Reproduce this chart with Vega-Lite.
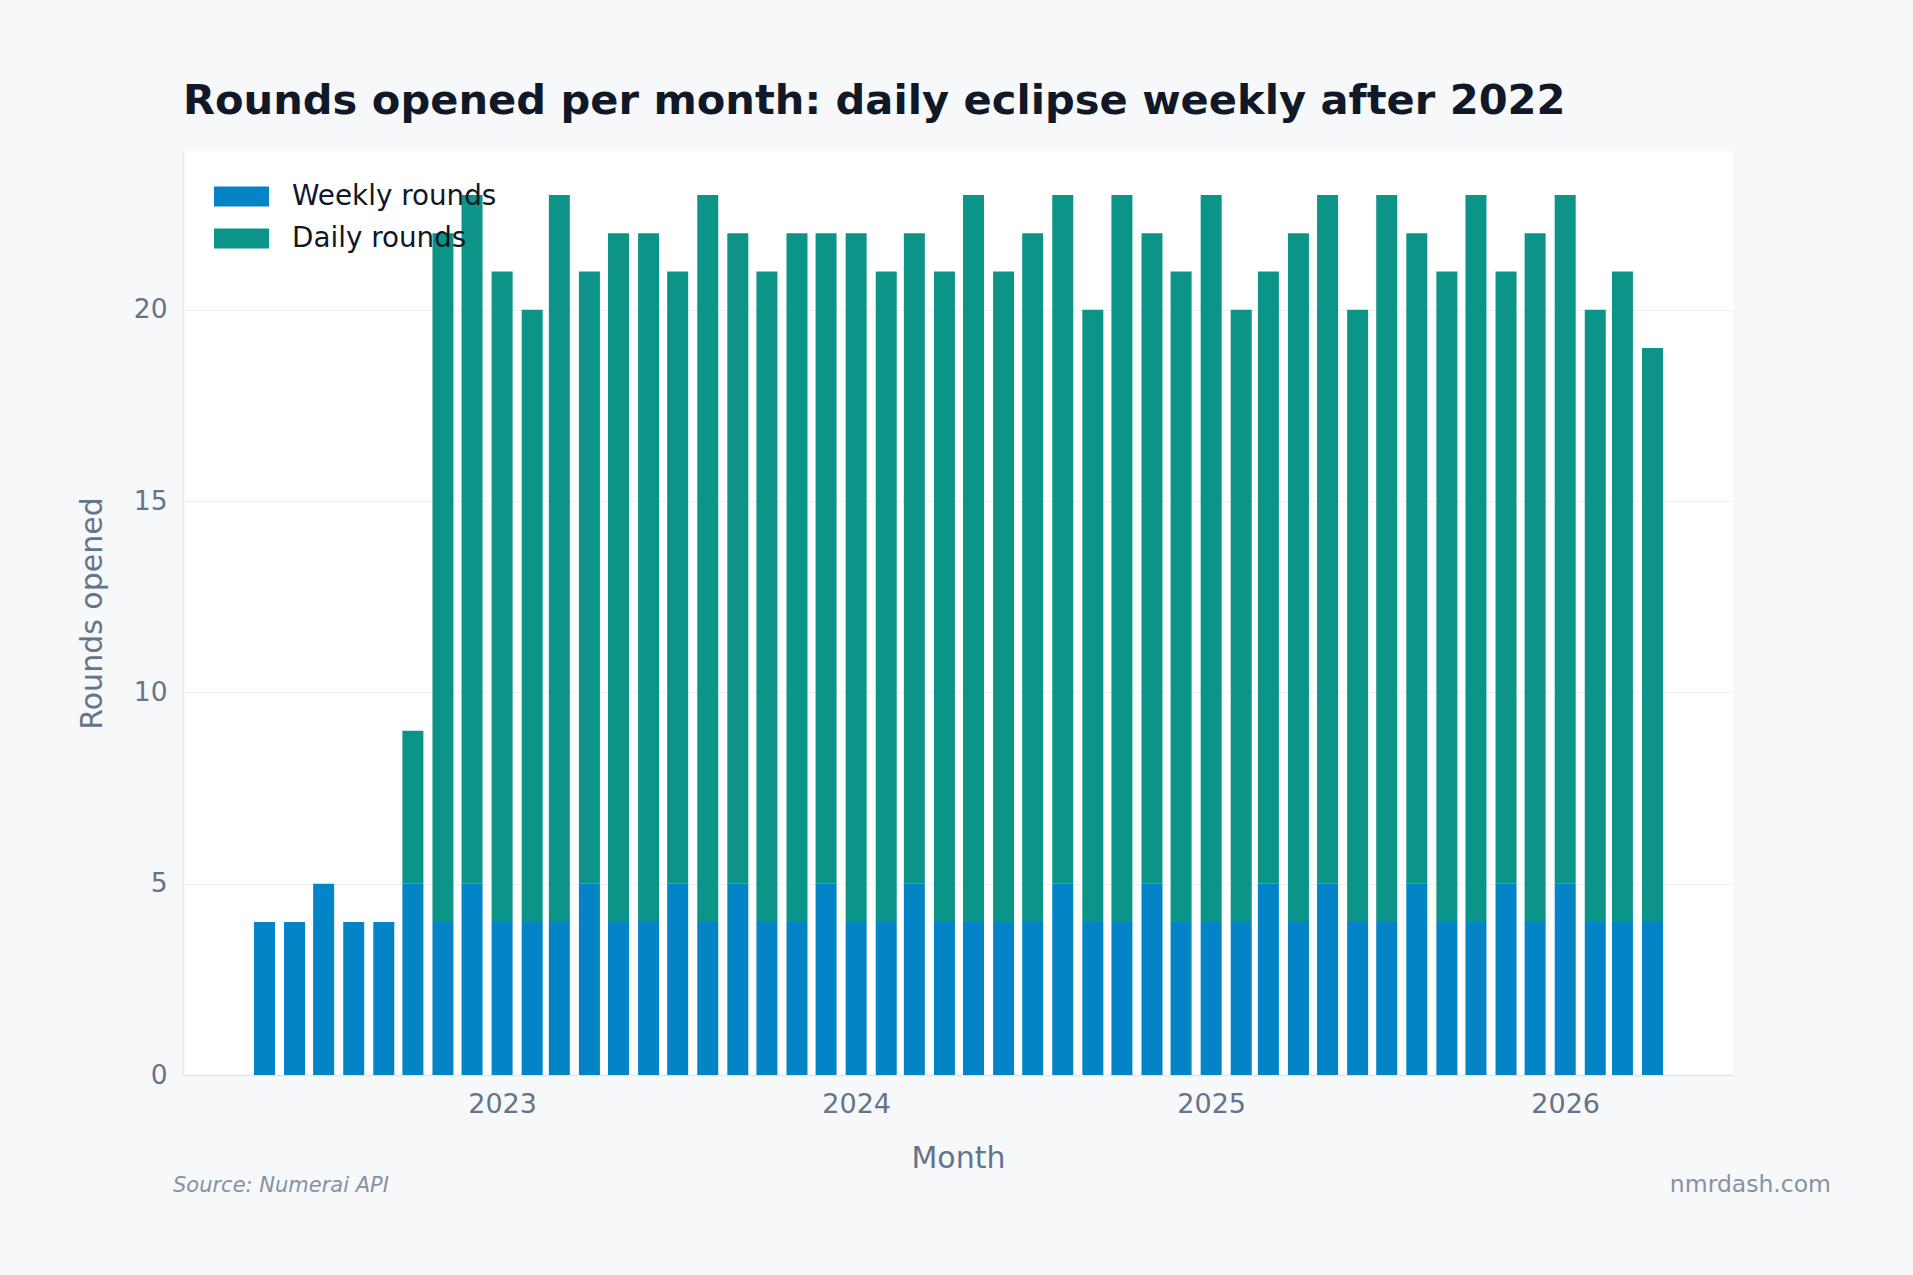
{
  "$schema": "https://vega.github.io/schema/vega-lite/v6.json",
  "width": 1550,
  "height": 924,
  "autosize": {"type": "none"},
  "padding": {"left": 183, "top": 151, "right": 180, "bottom": 200},
  "background": "#f7f8fa",
  "config": {
    "font": "DejaVu Sans",
    "view": {"fill": "#ffffff", "stroke": null}
  },
  "title": {
    "text": "Rounds opened per month: daily eclipse weekly after 2022",
    "anchor": "start",
    "frame": "group",
    "font": "DejaVu Sans",
    "fontSize": 41.6,
    "fontWeight": "bold",
    "color": "#111827",
    "baseline": "alphabetic",
    "offset": -5
  },
  "layer": [
    {
      "data": {
        "values": [
          {"month": "2022-05-01", "Weekly rounds": 4, "Daily rounds": 0},
          {"month": "2022-06-01", "Weekly rounds": 4, "Daily rounds": 0},
          {"month": "2022-07-01", "Weekly rounds": 5, "Daily rounds": 0},
          {"month": "2022-08-01", "Weekly rounds": 4, "Daily rounds": 0},
          {"month": "2022-09-01", "Weekly rounds": 4, "Daily rounds": 0},
          {"month": "2022-10-01", "Weekly rounds": 5, "Daily rounds": 4},
          {"month": "2022-11-01", "Weekly rounds": 4, "Daily rounds": 18},
          {"month": "2022-12-01", "Weekly rounds": 5, "Daily rounds": 18},
          {"month": "2023-01-01", "Weekly rounds": 4, "Daily rounds": 17},
          {"month": "2023-02-01", "Weekly rounds": 4, "Daily rounds": 16},
          {"month": "2023-03-01", "Weekly rounds": 4, "Daily rounds": 19},
          {"month": "2023-04-01", "Weekly rounds": 5, "Daily rounds": 16},
          {"month": "2023-05-01", "Weekly rounds": 4, "Daily rounds": 18},
          {"month": "2023-06-01", "Weekly rounds": 4, "Daily rounds": 18},
          {"month": "2023-07-01", "Weekly rounds": 5, "Daily rounds": 16},
          {"month": "2023-08-01", "Weekly rounds": 4, "Daily rounds": 19},
          {"month": "2023-09-01", "Weekly rounds": 5, "Daily rounds": 17},
          {"month": "2023-10-01", "Weekly rounds": 4, "Daily rounds": 17},
          {"month": "2023-11-01", "Weekly rounds": 4, "Daily rounds": 18},
          {"month": "2023-12-01", "Weekly rounds": 5, "Daily rounds": 17},
          {"month": "2024-01-01", "Weekly rounds": 4, "Daily rounds": 18},
          {"month": "2024-02-01", "Weekly rounds": 4, "Daily rounds": 17},
          {"month": "2024-03-01", "Weekly rounds": 5, "Daily rounds": 17},
          {"month": "2024-04-01", "Weekly rounds": 4, "Daily rounds": 17},
          {"month": "2024-05-01", "Weekly rounds": 4, "Daily rounds": 19},
          {"month": "2024-06-01", "Weekly rounds": 4, "Daily rounds": 17},
          {"month": "2024-07-01", "Weekly rounds": 4, "Daily rounds": 18},
          {"month": "2024-08-01", "Weekly rounds": 5, "Daily rounds": 18},
          {"month": "2024-09-01", "Weekly rounds": 4, "Daily rounds": 16},
          {"month": "2024-10-01", "Weekly rounds": 4, "Daily rounds": 19},
          {"month": "2024-11-01", "Weekly rounds": 5, "Daily rounds": 17},
          {"month": "2024-12-01", "Weekly rounds": 4, "Daily rounds": 17},
          {"month": "2025-01-01", "Weekly rounds": 4, "Daily rounds": 19},
          {"month": "2025-02-01", "Weekly rounds": 4, "Daily rounds": 16},
          {"month": "2025-03-01", "Weekly rounds": 5, "Daily rounds": 16},
          {"month": "2025-04-01", "Weekly rounds": 4, "Daily rounds": 18},
          {"month": "2025-05-01", "Weekly rounds": 5, "Daily rounds": 18},
          {"month": "2025-06-01", "Weekly rounds": 4, "Daily rounds": 16},
          {"month": "2025-07-01", "Weekly rounds": 4, "Daily rounds": 19},
          {"month": "2025-08-01", "Weekly rounds": 5, "Daily rounds": 17},
          {"month": "2025-09-01", "Weekly rounds": 4, "Daily rounds": 17},
          {"month": "2025-10-01", "Weekly rounds": 4, "Daily rounds": 19},
          {"month": "2025-11-01", "Weekly rounds": 5, "Daily rounds": 16},
          {"month": "2025-12-01", "Weekly rounds": 4, "Daily rounds": 18},
          {"month": "2026-01-01", "Weekly rounds": 5, "Daily rounds": 18},
          {"month": "2026-02-01", "Weekly rounds": 4, "Daily rounds": 16},
          {"month": "2026-03-01", "Weekly rounds": 4, "Daily rounds": 17},
          {"month": "2026-04-01", "Weekly rounds": 4, "Daily rounds": 15}
        ]
      },
      "transform": [
        {"fold": ["Weekly rounds", "Daily rounds"], "as": ["series", "rounds"]}
      ],
      "mark": {"type": "bar", "width": 21},
      "encoding": {
        "x": {
          "field": "month",
          "type": "temporal",
          "scale": {
            "type": "utc",
            "nice": false,
            "padding": 0,
            "domain": [
              {"year": 2022, "month": 2, "date": 6, "utc": true},
              {"year": 2026, "month": 6, "date": 23, "utc": true}
            ]
          },
          "axis": {
            "title": "Month",
            "values": [
              {"year": 2023, "month": 1, "date": 1, "utc": true},
              {"year": 2024, "month": 1, "date": 1, "utc": true},
              {"year": 2025, "month": 1, "date": 1, "utc": true},
              {"year": 2026, "month": 1, "date": 1, "utc": true}
            ],
            "labelExpr": "utcFormat(datum.value, '%Y')",
            "grid": false,
            "ticks": false,
            "domainColor": "#e2e5ea",
            "domainWidth": 1.5,
            "labelFontSize": 27,
            "labelColor": "#64748b",
            "labelPadding": 16,
            "labelFlush": false,
            "titleFontSize": 30,
            "titleFontWeight": "normal",
            "titleColor": "#64748b",
            "titlePadding": 26
          }
        },
        "y": {
          "field": "rounds",
          "type": "quantitative",
          "stack": "zero",
          "scale": {"domain": [0, 24.15], "nice": false},
          "axis": {
            "title": "Rounds opened",
            "values": [0, 5, 10, 15, 20],
            "ticks": false,
            "grid": true,
            "gridColor": "#eef0f3",
            "domainColor": "#e2e5ea",
            "domainWidth": 1.5,
            "labelFontSize": 26.5,
            "labelColor": "#64748b",
            "labelPadding": 16,
            "titleFontSize": 30,
            "titleFontWeight": "normal",
            "titleColor": "#64748b",
            "titlePadding": 26
          }
        },
        "color": {
          "field": "series",
          "type": "nominal",
          "scale": {
            "domain": ["Weekly rounds", "Daily rounds"],
            "range": ["#0284c7", "#0d9488"]
          },
          "legend": {
            "title": null,
            "orient": "none",
            "legendX": 31,
            "legendY": 18,
            "padding": 0,
            "symbolType": "M-1,-0.364L1,-0.364L1,0.364L-1,0.364Z",
            "symbolSize": 3025,
            "symbolStrokeWidth": 0,
            "symbolOpacity": 1,
            "labelFontSize": 27.8,
            "labelColor": "#0f172a",
            "labelOffset": 23,
            "labelLimit": 500,
            "rowPadding": 0
          }
        },
        "order": {"field": "series", "sort": "descending"}
      }
    },
    {
      "data": {"values": [{"label": "Source: Numerai API"}]},
      "mark": {
        "type": "text",
        "align": "left",
        "baseline": "alphabetic",
        "dx": -10,
        "dy": 117,
        "fontSize": 21,
        "fontStyle": "italic",
        "color": "#8592a6"
      },
      "encoding": {
        "x": {"datum": {"year": 2022, "month": 2, "date": 6, "utc": true}, "type": "temporal"},
        "y": {"datum": 0, "type": "quantitative"},
        "text": {"field": "label"}
      }
    },
    {
      "data": {"values": [{"label": "nmrdash.com"}]},
      "mark": {
        "type": "text",
        "align": "right",
        "baseline": "alphabetic",
        "dx": 98,
        "dy": 117,
        "fontSize": 23.5,
        "color": "#8592a6"
      },
      "encoding": {
        "x": {"datum": {"year": 2026, "month": 6, "date": 23, "utc": true}, "type": "temporal"},
        "y": {"datum": 0, "type": "quantitative"},
        "text": {"field": "label"}
      }
    }
  ]
}
